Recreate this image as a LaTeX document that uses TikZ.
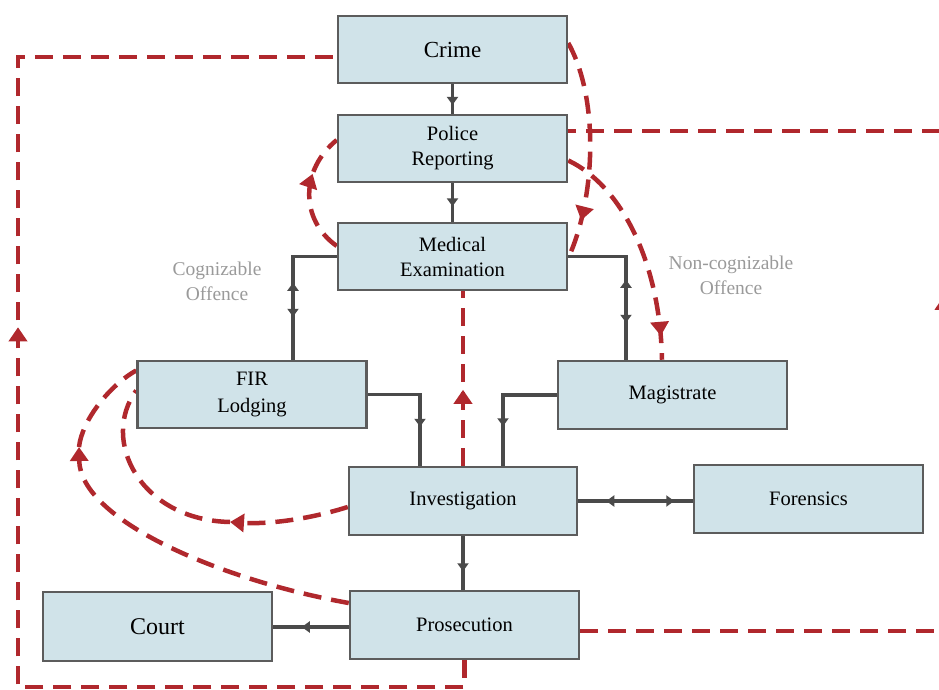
\documentclass[tikz,border=0pt]{standalone}
\usepackage{fontspec}
\setmainfont{Liberation Serif}
\usetikzlibrary{arrows.meta,calc,decorations.markings,backgrounds}
\definecolor{boxfill}{HTML}{D0E3E9}
\definecolor{boxdraw}{HTML}{5C5C5C}
\definecolor{conn}{HTML}{4A4A4A}
\definecolor{redl}{HTML}{B0282D}
\definecolor{lblc}{HTML}{9A9A9A}
\begin{document}
\begin{tikzpicture}[x=1pt,y=-1pt,
  box/.style={draw=boxdraw,line width=2.5pt,fill=boxfill,minimum width=229pt,minimum height=67pt,inner sep=0pt,align=center,font=\fontsize{20.5}{25}\selectfont},
  gline/.style={draw=conn,line width=3.5pt},
  rline/.style={draw=redl,line width=4.5pt,dash pattern=on 18pt off 10pt},
  lbl/.style={text=lblc,align=center,font=\fontsize{19.5}{25}\selectfont},
  gt/.tip={Triangle[length=8pt,width=11pt]},
  rt/.tip={Triangle[length=14pt,width=18pt]},
  gm/.style={postaction={decorate},decoration={markings,mark=at position #1 with {\arrow{gt}}}},
  rm/.style={postaction={decorate},decoration={markings,mark=at position #1 with {\pgfsetdash{}{0pt}\arrow{rt}}}},
]
\useasboundingbox (0,0) rectangle (939,690);
% boxes
\node[box,font=\fontsize{23}{27}\selectfont] (crime) at (452.5,49.5) {Crime};
\node[box] (police) at (452.5,148.5) {Police\\Reporting};
\node[box] (med) at (452.5,256.5) {Medical\\Examination};
\node[box,font=\fontsize{20.5}{27}\selectfont] (fir) at (252,394.5) {FIR\\Lodging};
\node[box,minimum height=68pt] (mag) at (672.5,395) {Magistrate};
\node[box,minimum width=228pt,minimum height=68pt] (inv) at (463,501) {Investigation};
\node[box,minimum height=68pt] (foren) at (808.5,499) {Forensics};
\node[box,minimum height=69pt,font=\fontsize{24}{28}\selectfont] (court) at (157.5,626.5) {Court};
\node[box,minimum height=68pt] (pros) at (464.5,625) {Prosecution};
% labels
\node[lbl] (cog) at (217,281) {Cognizable\\Offence};
\node[lbl] (ncog) at (731,275) {Non-cognizable\\Offence};
% helper coordinates
\coordinate (bl) at (18,687);
\coordinate (tl) at (18,57);
\coordinate (br) at (944,631);
\coordinate (tr) at (944,131);
\coordinate (j7) at (230,522);
\coordinate (j8) at (79,447);
\begin{scope}[on background layer]
% grey connectors
\draw[gline,gm=0.7] (crime.south) -- (police.north);
\draw[gline,gm=0.6] (police.south) -- (med.north);
\draw[gline,postaction={decorate},decoration={markings,
   mark=at position 70pt with {\arrowreversed{gt}},
   mark=at position 104pt with {\arrow{gt}}}]
  (med.west) -| ($(fir.north)+(41,0)$);
\draw[gline,postaction={decorate},decoration={markings,
   mark=at position 81pt with {\arrowreversed{gt}},
   mark=at position 124pt with {\arrow{gt}}}]
  (med.east) -| ($(mag.north)+(-46.5,0)$);
\draw[gline,gm=84.5pt] (fir.east) -| ($(inv.north)+(-43,0)$);
\draw[gline,gm=85pt] (mag.west) -| ($(inv.north)+(40,0)$);
\draw[gline,postaction={decorate},decoration={markings,
   mark=at position 28pt with {\arrowreversed{gt}},
   mark=at position 96pt with {\arrow{gt}}}]
  (inv.east) -- (inv.east -| foren.west);
\draw[gline,gm=35pt] (inv.south) -- (inv.south |- pros.north);
\draw[gline,gm=47pt] ($(pros.west)+(0,2)$) -- ($(court.east)+(0,0.5)$);
% red dashed connectors
\draw[rline,rm=833pt] (pros.south) |- (bl) -- (tl) -- (crime.west |- tl);
\draw[rline,rm=699pt] ($(pros.east)+(0,6)$) -- (br) -- (tr) -- (police.east |- tr);
\draw[rline,rm=0.82] ($(crime.east)+(0,-6.5)$) .. controls (600,100) and (595,200) .. ($(med.east)+(0,1.5)$);
\draw[rline,rm=0.66] ($(med.west)+(0,-10.5)$) .. controls (300,220) and (300,170) .. ($(police.west)+(0,-8.5)$);
\draw[rline,rm=-24pt] ($(police.east)+(0,12)$) .. controls (620,185) and (660,260) .. ($(mag.north)+(-10.5,0)$);
\draw[rline,rm=76pt] (inv.north) -- (inv.north |- med.south);
\draw[rline,-{rt}] ($(inv.west)+(0,6)$) .. controls (300,522) and (260,524) .. (j7);
\draw[rline] (j7) .. controls (140,520) and (100,440) .. ($(fir.west)+(0,-4)$);
\draw[rline,-{rt}] ($(pros.west)+(0,-22)$) .. controls (220,580) and (80,520) .. (j8);
\draw[rline] (j8) .. controls (82,420) and (110,385) .. ($(fir.west)+(0,-24)$);
\end{scope}
\end{tikzpicture}
\end{document}
